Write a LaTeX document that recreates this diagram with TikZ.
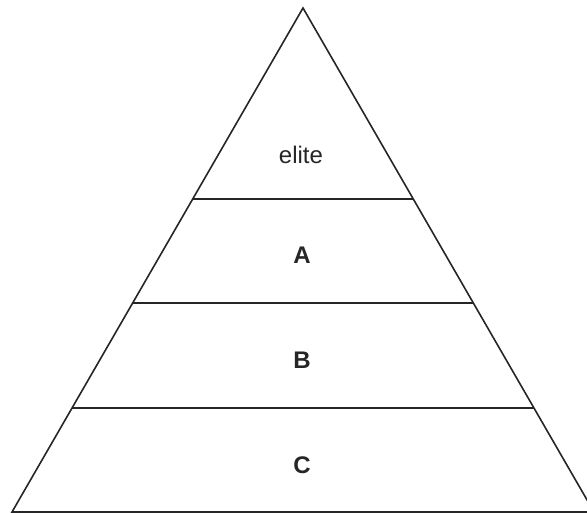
\documentclass[tikz,border=0pt]{standalone}
\usepackage{fontspec}
\setmainfont{Liberation Sans}
\begin{document}
\begin{tikzpicture}[x=1pt,y=-1pt,
  edge/.style={draw=black!85,line width=1.6pt,line join=miter},
  lbl/.style={font=\fontsize{24}{28}\selectfont,text=black!85,inner sep=0pt},
  blbl/.style={lbl,font=\fontsize{24}{28}\selectfont\bfseries}]
\useasboundingbox (0,0) rectangle (587,513);
\clip (0,0) rectangle (587,513);
\coordinate (top) at (303,8);
\coordinate (bl) at (12,512);
\coordinate (br) at (594,512);
\coordinate (l1) at (193,199);
\coordinate (r1) at (413,199);
\coordinate (l2) at (132.8,303);
\coordinate (r2) at (473.2,303);
\coordinate (l3) at (72,408);
\coordinate (r3) at (534,408);
\draw[edge] (bl) -- (top) -- (br) -- cycle;
\draw[edge] (l1) -- (r1);
\draw[edge] (l2) -- (r2);
\draw[edge] (l3) -- (r3);
\node[lbl] (elite) at (301,155) {elite};
\node[blbl] (a) at (302,255) {A};
\node[blbl] (b) at (302,360) {B};
\node[blbl] (c) at (302,465) {C};
\end{tikzpicture}
\end{document}
